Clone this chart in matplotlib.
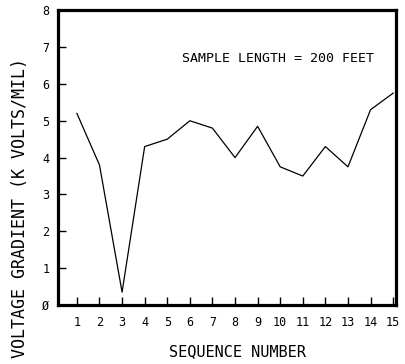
#!/usr/bin/env python3
"""Voltage gradient against sequence number for 200 ft samples."""

import matplotlib

matplotlib.use("Agg")
import matplotlib.pyplot as plt

SEQUENCE = list(range(1, 16))
GRADIENT = [5.2, 3.8, 0.35, 4.3, 4.5, 5.0, 4.8, 4.0, 4.85, 3.75, 3.5, 4.3, 3.75, 5.3, 5.75]
Y_TICKS = [0, 1, 2, 3, 4, 5, 6, 7, 8]
Y_TICK_LABELS = ["Ø", "1", "2", "3", "4", "5", "6", "7", "8"]

MONO = ["DejaVu Sans Mono"]

fig = plt.figure(figsize=(4.05, 3.64), dpi=100)
axis = fig.add_axes([0.143, 0.162, 0.835, 0.81])
axis.plot(SEQUENCE, GRADIENT, color="black", linewidth=0.9)
axis.set_xlim(0.16, 15.13)
axis.set_ylim(0, 8)
axis.set_xticks(SEQUENCE)
axis.set_xticklabels([str(s) for s in SEQUENCE], fontfamily=MONO, fontsize=8.5)
axis.set_yticks(Y_TICKS)
axis.set_yticklabels(Y_TICK_LABELS, fontfamily=MONO, fontsize=8.5)
axis.tick_params(direction="in", length=6, width=1.0, pad=6)
axis.tick_params(axis="x", pad=8)
for spine in axis.spines.values():
    spine.set_linewidth(2.3)

axis.text(0.65, 0.837, "SAMPLE LENGTH = 200 FEET", transform=axis.transAxes,
          ha="center", va="center", fontfamily=MONO, fontsize=9.5)

fig.text(237 / 405, 1 - 352 / 364, "SEQUENCE NUMBER", ha="center", va="center",
         fontfamily=MONO, fontsize=11)
fig.text(20 / 405, 6 / 364, "VOLTAGE GRADIENT (K VOLTS/MIL)", rotation=90,
         ha="center", va="bottom", fontfamily=MONO, fontsize=12)

fig.savefig("out.png", dpi=100)
